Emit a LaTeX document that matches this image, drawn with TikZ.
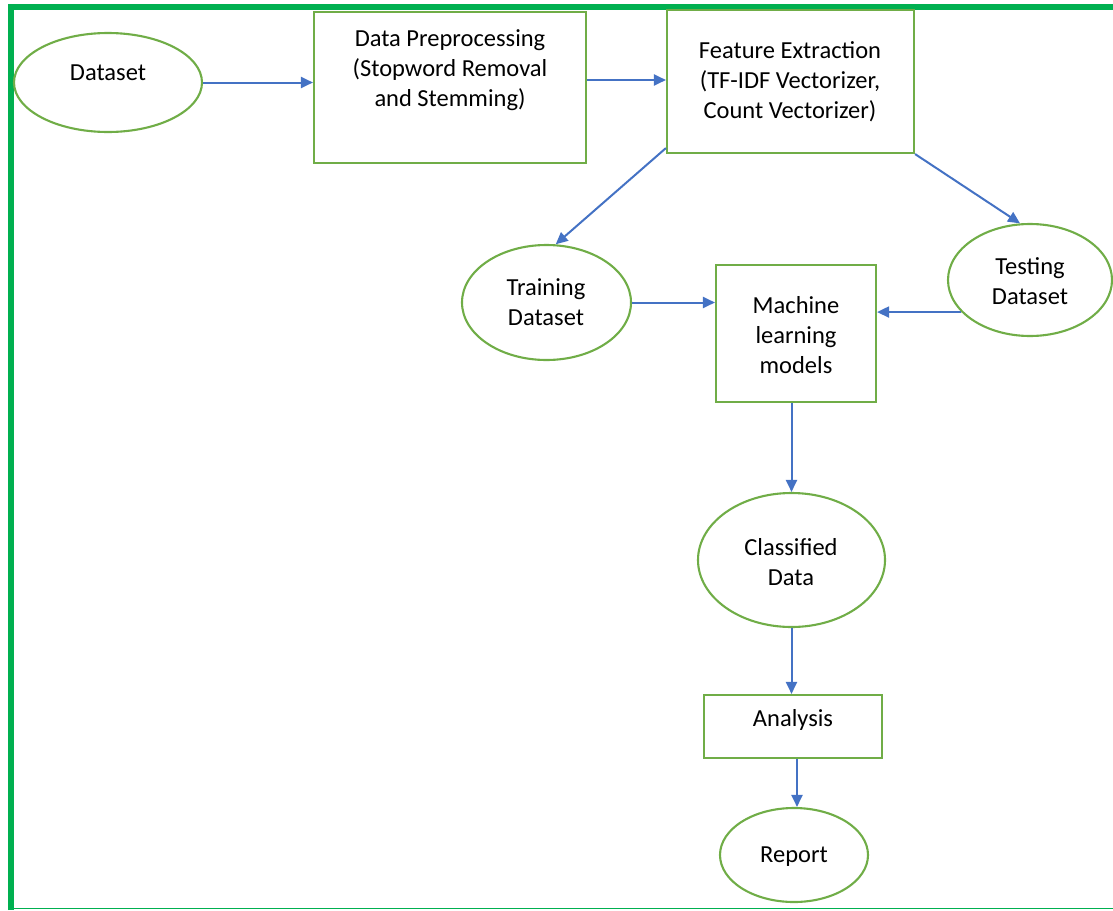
\documentclass[tikz,border=0pt]{standalone}
\usepackage{fontspec}
\setmainfont{Carlito}
\usetikzlibrary{shapes.geometric,arrows.meta}
\definecolor{frameg}{HTML}{00B050}
\definecolor{nodeg}{HTML}{70AD47}
\definecolor{arrb}{HTML}{4472C4}
\begin{document}
\begin{tikzpicture}[x=1pt,y=-1pt,
  ell/.style={ellipse, draw=nodeg, line width=2.1pt, inner sep=0pt},
  box/.style={rectangle, draw=nodeg, line width=2.1pt, inner sep=0pt},
  txt/.style={align=center, font=\fontsize{24.5}{30}\selectfont, inner sep=0pt},
  arr/.style={draw=arrb, line width=2pt, -{Triangle[length=12pt,width=11pt]}}]
\useasboundingbox (0,0) rectangle (1113,910);
% frame
\draw[frameg, line width=6pt] (11,910) -- (11,7) -- (1113,7);
\draw[frameg, line width=1.8pt] (14,908.5) -- (1113,908.5);
% nodes
\node[ell, minimum width=188, minimum height=99] (ds) at (108,82.5) {};
\node[txt] (dst) at (108,73) {Dataset};
\node[box, minimum width=272, minimum height=151] (dp) at (450,87.5) {};
\node[txt] (dpt) at (450,70) {Data Preprocessing\\(Stopword Removal\\and Stemming)};
\node[box, minimum width=247, minimum height=143] (fe) at (790.5,81.5) {};
\node[txt] (fet) at (790,82) {Feature Extraction\\(TF-IDF Vectorizer,\\Count Vectorizer)};
\node[ell, minimum width=169, minimum height=115] (tr) at (546.5,302.5) {};
\node[txt] (trt) at (546,302) {Training\\Dataset};
\node[ell, minimum width=164, minimum height=112] (te) at (1030,280) {};
\node[txt] (tet) at (1030,281.5) {Testing\\Dataset};
\node[box, minimum width=160, minimum height=137] (ml) at (796,333.5) {};
\node[txt] (mlt) at (796,335) {Machine\\learning\\models};
\node[ell, minimum width=187, minimum height=134] (cd) at (791.5,560) {};
\node[txt] (cdt) at (791,562) {Classified\\Data};
\node[box, minimum width=178, minimum height=63] (an) at (793,726.5) {};
\node[txt] (ant) at (793,720) {Analysis};
\node[ell, minimum width=148, minimum height=94] (rp) at (794,855) {};
\node[txt] (rpt) at (794,857) {Report};
% connectors
\draw[arr] (ds.east) -- (ds.east -| dp.west);
\draw[arr] ([yshift=7.5pt]dp.east) -- ([yshift=7.5pt]dp.east -| fe.west);
\draw[arr] ([yshift=6pt]fe.south west) -- (tr.81);
\draw[arr] (fe.south east) -- (te.100);
\draw[arr] (tr.east) -- (tr.east -| ml.west);
\draw[arr] (te.205) -- (te.205 -| ml.east);
\draw[arr] (cd.north |- ml.south) -- (cd.north);
\draw[arr] (cd.south) -- (cd.south |- an.north);
\draw[arr] ([xshift=3pt]rp.north |- an.south) -- ([xshift=3pt]rp.north);
\end{tikzpicture}
\end{document}
